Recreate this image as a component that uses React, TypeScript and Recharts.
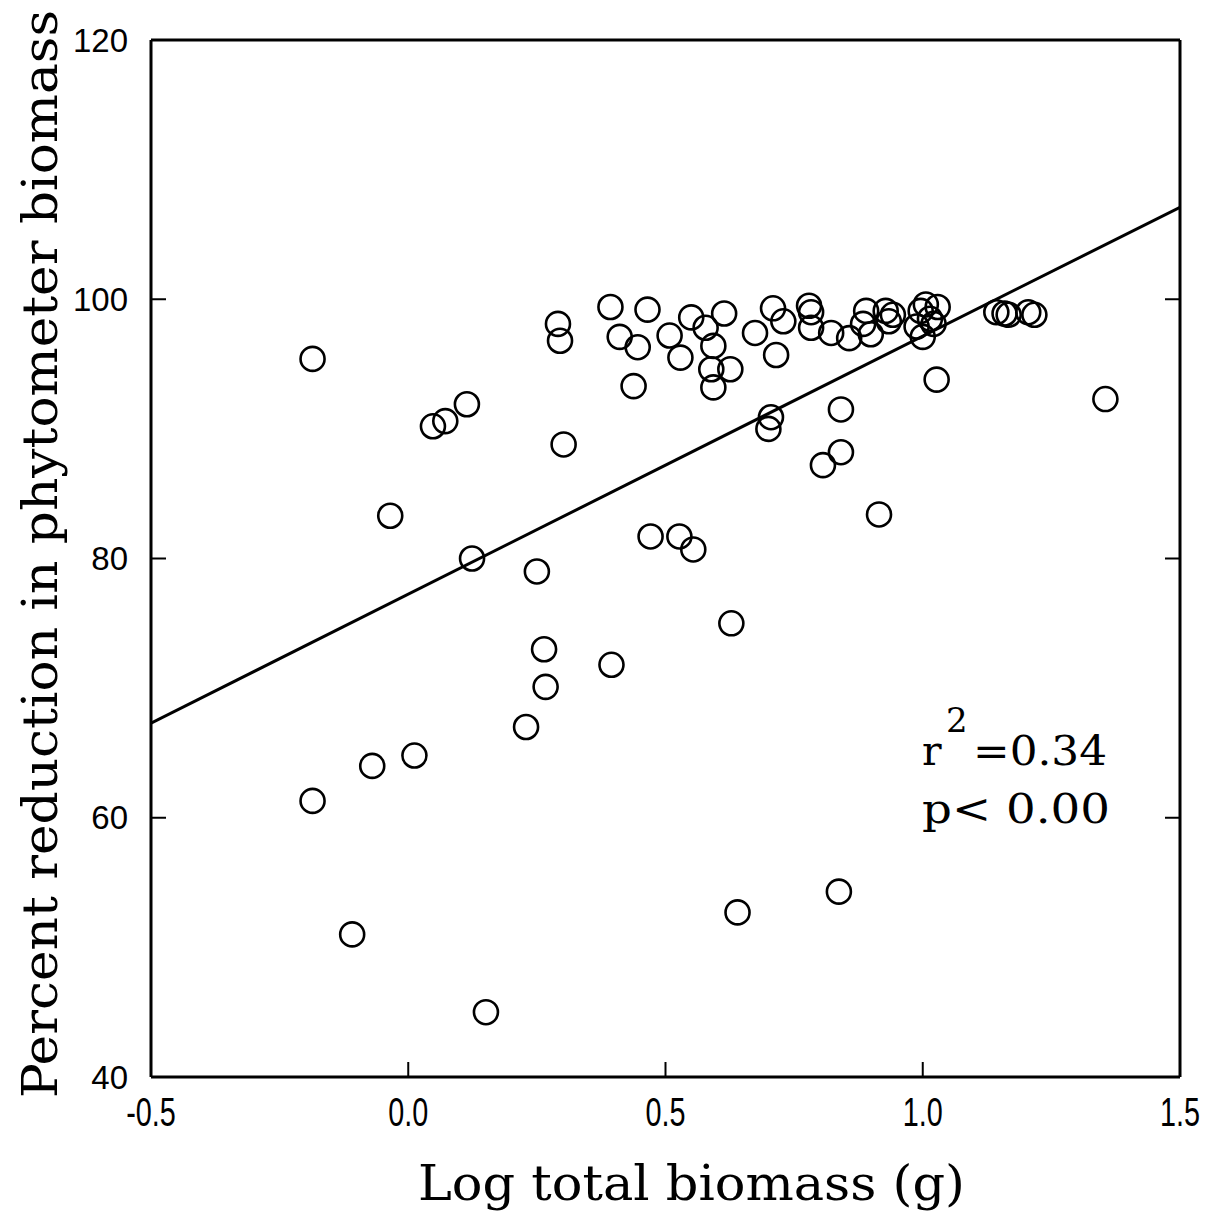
import { ScatterChart, Scatter, XAxis, YAxis, Customized } from 'recharts';

const xTicks = [-0.5, 0, 0.5, 1.0, 1.5];
const yTicks = [40, 60, 80, 100, 120];

// log total biomass (g) and % reduction in phytometer biomass
const logBiomass = [
  -0.186, -0.186, -0.109, -0.07, -0.035, 0.012, 0.048, 0.072, 0.114, 0.124,
  0.151, 0.229, 0.25, 0.264, 0.267, 0.291, 0.295, 0.302, 0.393, 0.395,
  0.411, 0.438, 0.446, 0.465, 0.471, 0.508, 0.527, 0.529, 0.55, 0.554,
  0.578, 0.593, 0.589, 0.593, 0.614, 0.626, 0.628, 0.64, 0.674, 0.709,
  0.705, 0.7, 0.715, 0.729, 0.779, 0.783, 0.783, 0.806, 0.822, 0.837,
  0.841, 0.841, 0.857, 0.89, 0.884, 0.899, 0.915, 0.928, 0.934, 0.942,
  0.988, 0.996, 1.0, 1.006, 1.014, 1.021, 1.029, 1.027, 1.143, 1.159,
  1.167, 1.205, 1.217, 1.355,
];
const pctReduction = [
  95.4, 61.3, 51.0, 64.0, 83.3, 64.8, 90.2, 90.6, 91.9, 80.0,
  45.0, 67.0, 79.0, 73.0, 70.1, 98.1, 96.8, 88.8, 99.4, 71.8,
  97.1, 93.3, 96.3, 99.2, 81.7, 97.2, 81.7, 95.5, 98.6, 80.7,
  97.8, 96.4, 94.6, 93.2, 98.9, 94.6, 75.0, 52.7, 97.4, 99.3,
  90.9, 90.0, 95.7, 98.3, 99.5, 99.0, 97.8, 87.2, 97.4, 54.3,
  91.5, 88.2, 97.0, 99.1, 98.1, 97.3, 83.4, 99.1, 98.3, 98.8,
  97.9, 99.1, 97.1, 99.6, 98.5, 98.1, 99.4, 93.8, 99.0, 98.9,
  98.8, 99.0, 98.8, 92.3,
];

// regression line end points
const fitX = [-0.5, 1.5];
const fitY = [67.3, 107.1];

const points = logBiomass.map((x, i) => ({ x, y: pctReduction[i] }));
const fitLine = fitX.map((x, i) => ({ x, y: fitY[i] }));

const serif = '"DejaVu Serif", serif';
const sans = '"Liberation Sans", Arial, sans-serif';

const XTick = ({ x, y, payload }: any) => (
  <g transform={`translate(${x},${y})`}>
    <text x={0} y={0} dy="0.72em" textAnchor="middle" fontSize={40} fontFamily={sans} fill="#000" transform="scale(0.72,1)">
      {payload.value.toFixed(1)}
    </text>
  </g>
);

const Ring = (p: any) => <circle cx={p.cx} cy={p.cy} r={12} fill="none" stroke="#000" strokeWidth={2.6} />;

const Notes = () => (
  <g fill="#000" fontFamily={serif}>
    <text x={418} y={1200} fontSize={49} textLength={547} lengthAdjust="spacingAndGlyphs">Log total biomass (g)</text>
    <text x={57} y={554} fontSize={49} textAnchor="middle" textLength={1088} lengthAdjust="spacingAndGlyphs" transform="rotate(-90, 57, 554)">
      Percent reduction in phytometer biomass
    </text>
    <text x={922} y={765} fontSize={41}>r</text>
    <text x={946} y={732} fontSize={34}>2</text>
    <text x={973} y={765} fontSize={41} textLength={134} lengthAdjust="spacingAndGlyphs">=0.34</text>
    <text x={922} y={823} fontSize={41} textLength={188} lengthAdjust="spacingAndGlyphs">p&lt; 0.00</text>
  </g>
);

export default function App() {
  return (
    <div style={{ position: 'absolute', left: 0, top: 0, background: '#fff' }}>
      <ScatterChart width={1228} height={1213} margin={{ top: 39, right: 47, bottom: 76, left: 51 }}>
        <XAxis dataKey="x" type="number" domain={[-0.5, 1.5]} ticks={xTicks} allowDataOverflow
          height={60} tickSize={-15} tickMargin={35} tick={<XTick />}
          axisLine={{ stroke: '#000', strokeWidth: 3 }} tickLine={{ stroke: '#000', strokeWidth: 2 }} />
        <XAxis xAxisId="top" orientation="top" type="number" domain={[-0.5, 1.5]} ticks={xTicks} allowDataOverflow
          height={1} tickSize={-15} tick={() => <g />}
          axisLine={{ stroke: '#000', strokeWidth: 3 }} tickLine={{ stroke: '#000', strokeWidth: 2 }} />
        <YAxis dataKey="y" type="number" domain={[40, 120]} ticks={yTicks} allowDataOverflow
          width={100} tickSize={-15} tickMargin={38}
          tick={{ fill: '#000', fontSize: 33, fontFamily: sans }}
          axisLine={{ stroke: '#000', strokeWidth: 3 }} tickLine={{ stroke: '#000', strokeWidth: 2 }} />
        <YAxis yAxisId="right" orientation="right" type="number" domain={[40, 120]} ticks={yTicks} allowDataOverflow
          width={1} tickSize={-15} tick={() => <g />}
          axisLine={{ stroke: '#000', strokeWidth: 3 }} tickLine={{ stroke: '#000', strokeWidth: 2 }} />
        <Scatter data={fitLine} line={{ stroke: '#000', strokeWidth: 3 }} shape={() => <g />} isAnimationActive={false} />
        <Scatter data={points} shape={Ring} isAnimationActive={false} />
        <Customized component={Notes} />
      </ScatterChart>
    </div>
  );
}
